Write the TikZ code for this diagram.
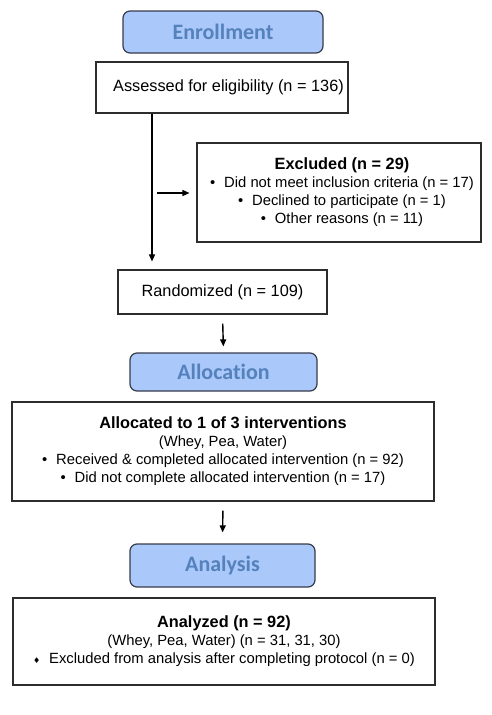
\documentclass[tikz,border=0pt]{standalone}
\usepackage{fontspec}
\setmainfont{Liberation Sans}
\newfontfamily\headfont[Ligatures=NoCommon]{Carlito}
\newfontfamily\symfont{DejaVu Sans}
\usetikzlibrary{arrows.meta}
\definecolor{phasefill}{RGB}{170,200,250}
\definecolor{phasetext}{RGB}{85,130,188}
\definecolor{phaseline}{RGB}{55,60,75}
\definecolor{boxline}{RGB}{45,45,45}

\begin{document}
\begin{tikzpicture}[x=1pt,y=-1pt,
    phase/.style={draw=phaseline,line width=1.2pt,fill=phasefill,rounded corners=7pt,inner sep=0pt,text=phasetext,font=\headfont\bfseries\fontsize{22}{26}\selectfont},
    stepbox/.style={draw=boxline,line width=1.1pt,inner sep=0pt,align=center,font=\fontsize{14.8}{18}\selectfont},
    big/.style={font=\fontsize{16.3}{20}\selectfont},
    flow/.style={line width=1.4pt,-{Triangle[length=7pt,width=6pt]}}]
            \useasboundingbox (0,0) rectangle (491,715);

            \node[phase,minimum width=200pt,minimum height=42pt] (enroll) at (223,32) {Enrollment};
            \node[stepbox,big,minimum width=252pt,minimum height=51pt] (assess) at (222,87.5) {\hspace*{13pt}Assessed for eligibility (n = 136)};
            \node[stepbox,minimum width=284pt,minimum height=99pt] (excluded) at (339,192.5) {\hspace*{6pt}\textbf{\fontsize{16.3}{18}\selectfont Excluded (n = 29)}\\
                \hspace*{6pt}\textbullet\hspace{0.6em}Did not meet inclusion criteria (n = 17)\\
                \hspace*{6pt}\textbullet\hspace{0.6em}Declined to participate (n = 1)\\
                \hspace*{6pt}\textbullet\hspace{0.6em}Other reasons (n = 11)};
            \node[stepbox,big,minimum width=209pt,minimum height=44pt] (random) at (222.5,292) {Randomized (n = 109)};
            \node[phase,minimum width=187pt,minimum height=38pt] (alloc) at (223.5,372) {Allocation};
            \node[stepbox,minimum width=422pt,minimum height=99pt] (allocated) at (223,451.5) {\textbf{\fontsize{16.3}{18}\selectfont Allocated to 1 of 3 interventions}\\
                (Whey, Pea, Water)\\
                \textbullet\hspace{0.6em}Received \& completed allocated intervention (n = 92)\\
                \textbullet\hspace{0.6em}Did not complete allocated intervention (n = 17)};
            \node[phase,minimum width=185pt,minimum height=43pt] (analysis) at (222.5,565.5) {Analysis};
            \node[stepbox,minimum width=422pt,minimum height=87pt] (analyzed) at (224,641.5) {\textbf{\fontsize{16.3}{18}\selectfont Analyzed (n = 92)}\\
                (Whey, Pea, Water) (n = 31, 31, 30)\\
                {\symfont\fontsize{8}{8}\selectfont\symbol{"2666}}\hspace{0.6em}Excluded from analysis after completing protocol (n = 0)};

            \coordinate (down) at (152,0);
            \coordinate (branch) at (157,193);

            \path [flow,shorten >=8pt] (assess.south -| down) edge (random.north -| down);
            \path [flow,shorten >=7pt] (branch) edge (excluded.west |- branch);
            \path [flow,shorten <=9pt,shorten >=6pt] (random.south) edge (alloc.north);
            \path [flow,shorten <=9pt,shorten >=11pt] (allocated.south) edge (analysis.north);
        \end{tikzpicture}
\end{document}
